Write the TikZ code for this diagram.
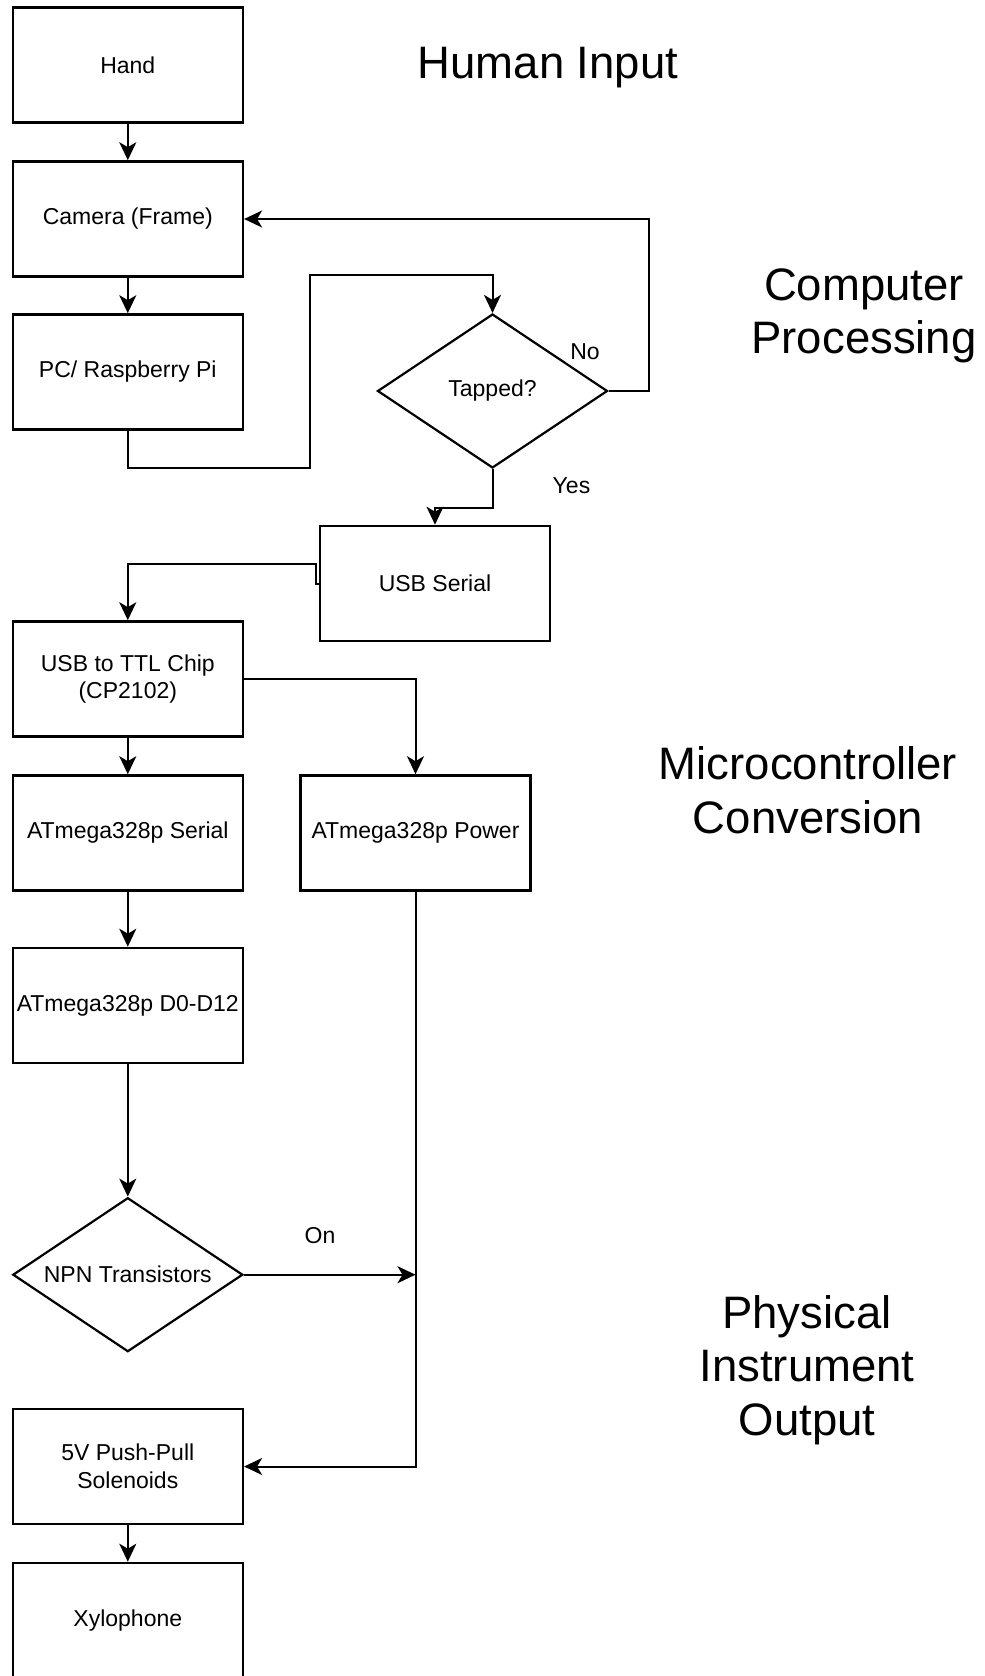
\documentclass[tikz,border=0pt]{standalone}
\usepackage{fontspec}
\setmainfont{Liberation Sans}
\usetikzlibrary{arrows.meta,shapes.geometric}
\newcommand{\boxfont}{\fontsize{11.5pt}{13.85pt}\selectfont}
\newcommand{\mytitlefont}{\fontsize{22.75pt}{26.75pt}\selectfont}
\begin{document}
\begin{tikzpicture}[x=0.5pt,y=-0.5pt,
  box/.style={draw,line width=1.3pt,minimum width=115pt,minimum height=57.5pt,inner sep=1pt,align=center,font=\boxfont},
  dia/.style={draw,diamond,shape aspect=1.5,line width=1.1pt,minimum width=115pt,minimum height=77pt,inner sep=0pt,font=\boxfont},
  conn/.style={line width=1pt},
  arr/.style={conn,-{Stealth[length=9pt,width=8.5pt,inset=2.5pt]}},
  lbl/.style={font=\boxfont,inner sep=0pt},
  title/.style={font=\mytitlefont,align=center,inner sep=0pt}]
\useasboundingbox (0,0) rectangle (985,1676);

\node[box] (hand) at (127.8,65) {Hand};
\node[box] (cam) at (127.8,219) {Camera (Frame)};
\node[box] (pc) at (127.8,372) {PC/ Raspberry Pi};
\node[dia] (tap) at (492.5,391) {Tapped?};
\node[box] (usb) at (435,583.5) {USB Serial};
\node[box] (ttl) at (127.8,679) {USB to TTL Chip\\(CP2102)};
\node[box] (ser) at (127.8,833) {ATmega328p Serial};
\node[box] (pow) at (415.5,833) {ATmega328p Power};
\node[box] (dd) at (127.8,1005.5) {ATmega328p D0-D12};
\node[dia] (npn) at (127.8,1274.7) {NPN Transistors};
\node[box] (sol) at (127.8,1466.5) {5V Push-Pull\\Solenoids};
\node[box] (xyl) at (127.8,1620.5) {Xylophone};

\coordinate (join) at (pow.south |- npn.east);

\draw[arr] (hand) -- (cam);
\draw[arr] (cam) -- (pc);
\draw[arr] (pc.south) -- (pc.south |- 0,468) -- (310,468) -- (310,275) -- (tap.north |- 0,275) -- (tap.north);
\draw[arr] (tap.east) -- ++(40,0) |- (cam.east);
\draw[arr] (tap.south) -- (tap.south |- 0,507.7) -| (usb.north);
\draw[arr] (usb.west) -- ++(-3,0) |- (ttl.north |- 0,564) -- (ttl.north);
\draw[arr] (ttl) -- (ser);
\draw[arr] (ttl.east) -| (pow.north);
\draw[arr] (ser) -- (dd);
\draw[arr] (dd) -- (npn);
\draw[arr] (npn.east) -- (join);
\draw[arr] (pow.south) |- (sol.east);
\draw[arr] (sol) -- (xyl);

\node[lbl] (no) at (585,352) {No};
\node[lbl] (yes) at (571.5,486) {Yes};
\node[lbl] (on) at (320,1236) {On};

\node[title,anchor=base] (t1) at (548,78.3) {Human Input};
\node[title,anchor=base] (t2) at (864,353.5) {Computer\\Processing};
\node[title,anchor=base] (t3) at (808,833) {Microcontroller\\Conversion};
\node[title,anchor=base] (t4) at (807,1435) {Physical\\Instrument\\Output};
\end{tikzpicture}
\end{document}
